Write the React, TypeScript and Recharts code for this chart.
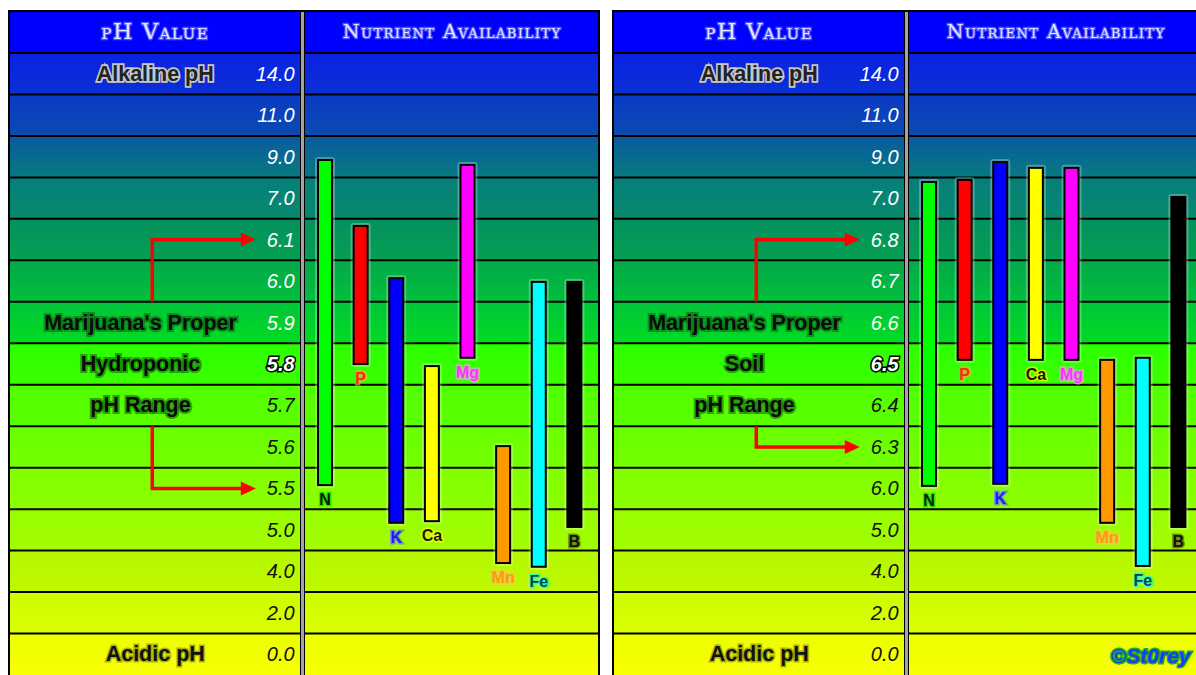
import React from 'react';
import {
  ComposedChart,
  BarChart,
  Bar,
  Cell,
  Scatter,
  XAxis,
  YAxis,
  ReferenceArea,
  ReferenceLine,
  LabelList,
} from 'recharts';

// y axis works in "row units": each table row is 1 unit, bottom row (0.0) spans 0..1
const ROW_H = 41.47;
const HEADER_H = 41;
const CHART_H = 663;
const ROWS = 15;
const TOP = ROWS + HEADER_H / ROW_H;

// pH labels, top row first
const hydroLabels = ['14.0', '11.0', '9.0', '7.0', '6.1', '6.0', '5.9', '5.8', '5.7', '5.6', '5.5', '5.0', '4.0', '2.0', '0.0'];
const soilLabels = ['14.0', '11.0', '9.0', '7.0', '6.8', '6.7', '6.6', '6.5', '6.4', '6.3', '6.0', '5.0', '4.0', '2.0', '0.0'];

const hydroNotes = ['Alkaline pH', '', '', '', '', '', "Marijuana's Proper", 'Hydroponic', 'pH Range', '', '', '', '', '', 'Acidic pH'];
const soilNotes = ['Alkaline pH', '', '', '', '', '', "Marijuana's Proper", 'Soil', 'pH Range', '', '', '', '', '', 'Acidic pH'];

// row shading, top -> bottom of each row
const rowTop = ['#0a22e4', '#0a3ac4', '#0a5aa0', '#077e7a', '#05905e', '#04a84a', '#00c43a', '#2cff00', '#50ff00', '#68ff00', '#80ff00', '#98ff00', '#b4f800', '#ccfc00', '#ecff00'];
const rowBottom = ['#0a30d4', '#0a4cb0', '#077a80', '#068a6c', '#04a052', '#00c03c', '#00dc22', '#3cff00', '#5cff00', '#74ff00', '#8cff00', '#a4fb00', '#c0f800', '#dcff00', '#f8ff00'];

// nutrients
const nutrients = ['N', 'P', 'K', 'Ca', 'Mg', 'Mn', 'Fe', 'B'];
const nutrientColors = ['#00ff00', '#ff0000', '#0000ff', '#ffff00', '#ff00ff', '#ff9900', '#00ffff', '#000000'];
const labelFill = ['#002200', '#ff2a00', '#1a1aff', '#1a1a00', '#ff33ff', '#ff9a00', '#004848', '#111111'];
const labelGlow = ['#00dd00', '#ff9a60', '#6a6aff', '#ffff00', '#ff99ff', '#ffc060', '#00ffff', '#556600'];

// availability ranges in row units (low, high)
const hydroLow = [4.58, 7.5, 3.67, 3.71, 7.65, 2.7, 2.61, 3.57];
const hydroHigh = [12.42, 10.83, 9.57, 7.45, 12.3, 5.52, 9.48, 9.48];
const soilLow = [4.56, 7.6, 4.61, 7.6, 7.6, 3.67, 2.63, 3.57];
const soilHigh = [11.89, 11.94, 12.37, 12.23, 12.23, 7.6, 7.65, 11.53];

// arrows: row edge the arrow leaves from, label it points at
const hydroArrows = [
  { fromEdge: ROWS - 6, to: '6.1' },
  { fromEdge: ROWS - 9, to: '5.5' },
];
const soilArrows = [
  { fromEdge: ROWS - 6, to: '6.8' },
  { fromEdge: ROWS - 9, to: '6.3' },
];

// horizontal positions inside the table, in percent of its width
const NUM_X = 48.4;
const NOTE_X = 22.2;
const EDGE_NOTE_X = 24.7;
const ARROW_X = 24.2;
const ARROW_TIP = 41.8;

const HEADER_FONT = '"DejaVu Serif", serif';
const NUM_FONT = '"Liberation Sans", Arial, sans-serif';
const NOTE_FONT = '"Liberation Sans", Arial, sans-serif';

function HeaderLabel(props: any) {
  const vb = props.viewBox;
  const cy = vb.y + vb.height / 2 + 7;
  const common = {
    fill: '#e4e8ff',
    stroke: '#7f8cff',
    strokeWidth: 2.5,
    strokeOpacity: 0.6,
    paintOrder: 'stroke' as any,
    fontFamily: HEADER_FONT,
    style: { fontVariant: 'small-caps', letterSpacing: 1.5 } as React.CSSProperties,
  };
  return (
    <g>
      <text x={vb.x + vb.width * 0.247} y={cy} textAnchor="middle" fontSize={22} {...common}>
        pH Value
      </text>
      <text x={vb.x + vb.width * 0.752} y={cy - 1} textAnchor="middle" fontSize={19} {...common}>
        Nutrient Availability
      </text>
    </g>
  );
}

function PhTick(props: any) {
  const { cx, cy, payload } = props;
  if (cx == null || cy == null) return null;
  const fromBottom = ROWS - 1 - payload.row;
  let numStyle: any = { fill: '#111' };
  if (fromBottom >= 8) numStyle = { fill: '#ffffff' };
  if (fromBottom === 7) numStyle = { fill: '#ffffff', stroke: '#000', strokeWidth: 3, paintOrder: 'stroke', fontWeight: 'bold' };
  return (
    <text x={cx} y={cy + 7} textAnchor="end" fontSize={20} fontStyle="italic" fontFamily={NUM_FONT} {...numStyle}>
      {payload.label}
    </text>
  );
}

function NoteLabel(props: any) {
  const { viewBox: vb, note, watermark } = props;
  const cy = vb.y + vb.height / 2 + 7;
  const edge = note === 'Alkaline pH' || note === 'Acidic pH';
  const noteStyle: any = note === 'Alkaline pH'
    ? { fill: '#222', stroke: '#c8c8c8', strokeWidth: 3.5 }
    : note === 'Acidic pH'
      ? { fill: '#111', stroke: '#6a6a00', strokeWidth: 3, strokeOpacity: 0.5 }
      : { fill: '#0a0a0a', stroke: '#0b6a0b', strokeWidth: 4, strokeOpacity: 0.6 };
  return (
    <g>
      {note ? (
        <text
          x={vb.x + (vb.width * (edge ? EDGE_NOTE_X : NOTE_X)) / 100}
          y={cy}
          textAnchor="middle"
          fontSize={21.5}
          fontWeight="bold"
          fontFamily={NOTE_FONT}
          paintOrder="stroke"
          {...noteStyle}
        >
          {note}
        </text>
      ) : null}
      {watermark ? (
        <text
          x={vb.x + vb.width * 0.845}
          y={cy + 2}
          fontSize={21}
          fontWeight="bold"
          fontStyle="italic"
          fontFamily={NOTE_FONT}
          fill="#2336ff"
          stroke="#18b018"
          strokeWidth={3}
          paintOrder="stroke"
        >
          {watermark}
        </text>
      ) : null}
    </g>
  );
}

function ElbowArrow(props: any) {
  const { x1, y1, x2, y2 } = props;
  const head = 15;
  return (
    <g>
      <path d={`M${x1},${y1} V${y2} H${x2 - head + 1}`} fill="none" stroke="#ff0000" strokeWidth={3.5} />
      <polygon points={`${x2 - head},${y2 - 7} ${x2},${y2} ${x2 - head},${y2 + 7}`} fill="#ff0000" />
    </g>
  );
}

function NutrientBar(props: any) {
  const { x, y, width, height, fill } = props;
  if (height == null || height <= 0) return null;
  return (
    <g>
      <rect x={x - 3} y={y - 3} width={width + 6} height={height + 6} rx={3} fill="#ffffff" fillOpacity={0.28} />
      <rect x={x} y={y} width={width} height={height} fill={fill} stroke="#000" strokeWidth={2} />
    </g>
  );
}

function nutrientLabel(props: any) {
  const { x, y, width, height, index } = props;
  const name = nutrients[index];
  return (
    <text
      x={x + width / 2}
      y={y + height + 20}
      textAnchor="middle"
      fontSize={16}
      fontWeight="bold"
      fontFamily={NOTE_FONT}
      fill={labelFill[index]}
      stroke={labelGlow[index]}
      strokeWidth={3}
      strokeOpacity={0.7}
      paintOrder="stroke"
    >
      {name}
    </text>
  );
}

type PanelProps = {
  id: string;
  left: number;
  labels: string[];
  notes: string[];
  low: number[];
  high: number[];
  arrows: { fromEdge: number; to: string }[];
  watermark?: string;
};

const TABLE_W = 588;
const PH_W = 290;
const DIV_W = 5;
const NUT_W = TABLE_W - PH_W - DIV_W;

function Panel({ id, left, labels, notes, low, high, arrows, watermark }: PanelProps) {
  const barData = nutrients.map((name, i) => ({ name, range: [low[i], high[i]] }));
  const rowData = labels.map((label, i) => ({ label, row: i, x: NUM_X, mid: ROWS - 0.5 - i }));
  const rowLines = Array.from({ length: ROWS }, (_, i) => i + 1);
  return (
    <div
      style={{
        position: 'absolute',
        left,
        top: 10,
        width: TABLE_W,
        height: CHART_H,
        borderTop: '2px solid #000',
        borderLeft: '2px solid #000',
        borderRight: '2px solid #000',
      }}
    >
      <div style={{ position: 'absolute', left: 0, top: 0 }}>
        <ComposedChart width={TABLE_W} height={CHART_H} data={rowData} margin={{ top: 0, right: 0, bottom: 0, left: 0 }}>
          <defs>
            {rowTop.map((c, i) => (
              <linearGradient key={i} id={`${id}-row${i}`} x1="0" y1="0" x2="0" y2="1">
                <stop offset="0" stopColor={c} />
                <stop offset="1" stopColor={rowBottom[i]} />
              </linearGradient>
            ))}
          </defs>
          <XAxis type="number" dataKey="x" domain={[0, 100]} hide allowDataOverflow />
          <YAxis type="number" dataKey="mid" domain={[0, TOP]} hide allowDataOverflow />
          <ReferenceArea
            y1={ROWS}
            y2={TOP}
            fill="#0000ff"
            fillOpacity={1}
            stroke="none"
            ifOverflow="visible"
            label={(p: any) => <HeaderLabel viewBox={p.viewBox} />}
          />
          {labels.map((lab, i) => (
            <ReferenceArea
              key={lab + i}
              y1={ROWS - 1 - i}
              y2={ROWS - i}
              fill={`url(#${id}-row${i})`}
              fillOpacity={1}
              stroke="none"
              ifOverflow="visible"
              label={(p: any) => (
                <NoteLabel viewBox={p.viewBox} note={notes[i]} watermark={i === ROWS - 1 ? watermark : undefined} />
              )}
            />
          ))}
          {rowLines.map((v) => (
            <ReferenceLine key={v} y={v} stroke="#000" strokeWidth={2} ifOverflow="visible" />
          ))}
          {arrows.map((a, k) => {
            const target = ROWS - 0.5 - labels.indexOf(a.to);
            return (
              <ReferenceLine
                key={k}
                segment={[
                  { x: ARROW_X, y: a.fromEdge },
                  { x: ARROW_TIP, y: target },
                ]}
                ifOverflow="visible"
                shape={(p: any) => <ElbowArrow {...p} />}
              />
            );
          })}
          <Scatter dataKey="mid" isAnimationActive={false} shape={(p: any) => <PhTick {...p} />} />
        </ComposedChart>
      </div>
      <div
        style={{
          position: 'absolute',
          left: PH_W,
          top: 0,
          width: DIV_W - 2,
          height: CHART_H,
          background: '#a4a4a4',
          borderLeft: '1px solid #000',
          borderRight: '1px solid #000',
        }}
      />
      <div style={{ position: 'absolute', left: PH_W + DIV_W, top: 0 }}>
        <BarChart
          width={NUT_W}
          height={CHART_H}
          data={barData}
          margin={{ top: 0, right: 6, bottom: 0, left: 2 }}
          barCategoryGap={0}
        >
          <XAxis dataKey="name" type="category" hide />
          <YAxis type="number" domain={[0, TOP]} hide allowDataOverflow />
          <Bar dataKey="range" barSize={14} isAnimationActive={false} shape={(p: any) => <NutrientBar {...p} />}>
            {barData.map((d, i) => (
              <Cell key={d.name} fill={nutrientColors[i]} />
            ))}
            <LabelList dataKey="name" content={nutrientLabel} />
          </Bar>
        </BarChart>
      </div>
    </div>
  );
}

export default function App() {
  return (
    <div style={{ position: 'relative', width: 1196, height: 675, overflow: 'hidden', background: '#fff' }}>
      <style>{'body{margin:0;overflow:hidden}'}</style>
      <Panel
        id="hydro"
        left={8}
        labels={hydroLabels}
        notes={hydroNotes}
        low={hydroLow}
        high={hydroHigh}
        arrows={hydroArrows}
      />
      <Panel
        id="soil"
        left={612}
        labels={soilLabels}
        notes={soilNotes}
        low={soilLow}
        high={soilHigh}
        arrows={soilArrows}
        watermark="©St0rey"
      />
    </div>
  );
}
